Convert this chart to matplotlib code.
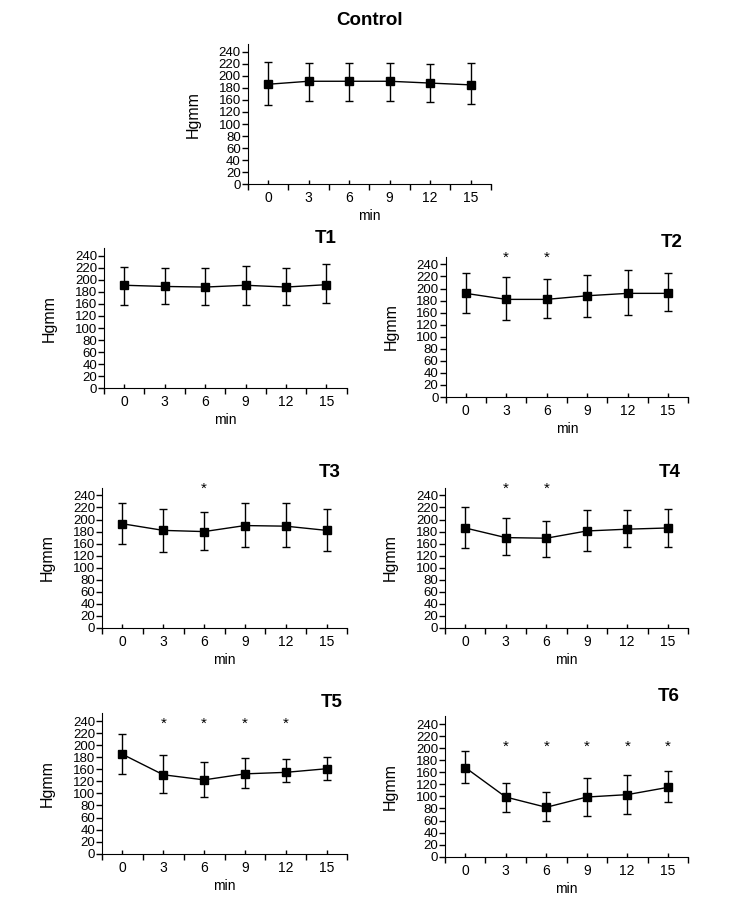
import matplotlib
matplotlib.use('Agg')
import matplotlib.pyplot as plt
import numpy as np

plt.rcParams['font.family'] = ['Liberation Sans', 'DejaVu Sans']

# data (mmHg)
minutes = [0, 3, 6, 9, 12, 15]
panels = ['Control', 'T1', 'T2', 'T3', 'T4', 'T5', 'T6']

mean_control = [186, 191, 191, 191, 188, 185]
upper_control = [223, 222, 222, 222, 220, 221]
lower_control = [143, 156, 156, 156, 154, 145]

mean_t1 = [191, 189, 188, 191, 188, 192]
upper_t1 = [222, 219, 219, 223, 219, 226]
lower_t1 = [156, 160, 157, 158, 158, 161]

mean_t2 = [192, 182, 182, 188, 192, 192]
upper_t2 = [226, 219, 216, 223, 231, 226]
lower_t2 = [160, 134, 141, 147, 152, 162]

mean_t3 = [193, 182, 180, 190, 189, 182]
upper_t3 = [227, 217, 213, 227, 227, 218]
lower_t3 = [160, 133, 138, 148, 148, 136]

mean_t4 = [186, 170, 169, 181, 184, 186]
upper_t4 = [220, 203, 198, 215, 215, 217]
lower_t4 = [144, 121, 118, 134, 148, 148]

mean_t5 = [185, 142, 125, 145, 150, 161]
upper_t5 = [218, 183, 172, 178, 177, 180]
lower_t5 = [145, 100, 94, 109, 119, 125]

mean_t6 = [168, 99, 82, 99, 103, 115]
upper_t6 = [196, 125, 108, 142, 150, 163]
lower_t6 = [124, 74, 60, 67, 71, 90]

means = [mean_control, mean_t1, mean_t2, mean_t3, mean_t4, mean_t5, mean_t6]
uppers = [upper_control, upper_t1, upper_t2, upper_t3, upper_t4, upper_t5, upper_t6]
lowers = [lower_control, lower_t1, lower_t2, lower_t3, lower_t4, lower_t5, lower_t6]

# significance stars: minutes marked, and the height they are printed at
star_minutes = [[], [], [3, 6], [6], [3, 6], [3, 6, 9, 12], [3, 6, 9, 12, 15]]
star_level = [0, 0, 251, 251, 251, 236, 203]

# the axis labels in the original are evenly spaced but skip 140
ytick_labels = [0, 20, 40, 60, 80, 100, 120, 160, 180, 200, 220, 240]
scale_vals = np.array(ytick_labels + [260], dtype=float)
scale_pos = np.arange(len(scale_vals), dtype=float)


def forward(v):
    return np.interp(v, scale_vals, scale_pos)


def inverse(p):
    return np.interp(p, scale_pos, scale_vals)


# layout: axes left, x-axis height (px from top), width; title spot
W, H = 746, 902
boxes = [
    [247.7, 184.3, 243.3],
    [104.0, 388.3, 242.7],
    [445.5, 397.0, 242.7],
    [102.0, 628.0, 245.0],
    [445.0, 628.0, 243.0],
    [102.0, 853.7, 245.0],
    [445.0, 856.7, 243.0],
]
ax_h = 140.4
title_xy = [(0.5, 1.17), (0.96, 1.065), (0.978, 1.10), (0.975, 1.11),
            (0.971, 1.11), (0.983, 1.075), (0.967, 1.14)]


def draw_panel(ax, i):
    m = np.array(means[i])
    up = np.array(uppers[i]) - m
    lo = m - np.array(lowers[i])
    ax.errorbar(minutes, m, yerr=[lo, up], color='black', marker='s',
                markersize=5.5, linewidth=1.0, elinewidth=1.0, capsize=3,
                capthick=1.0)

    ax.set_yscale('function', functions=(forward, inverse))
    ax.set_ylim(0, 253)
    ax.set_yticks(ytick_labels)
    ax.set_yticklabels([str(t) for t in ytick_labels])
    ax.yaxis.set_minor_locator(matplotlib.ticker.NullLocator())

    ax.set_xlim(-1.5, 16.5)
    ax.set_xticks(minutes)
    ax.set_xticks(np.arange(-1.5, 16.6, 3), minor=True)

    ax.spines['top'].set_visible(False)
    ax.spines['right'].set_visible(False)
    ax.spines['left'].set_bounds(-8, 253)
    ax.tick_params(axis='y', direction='out', length=4, width=1,
                   labelsize=9.5, pad=1)
    ax.tick_params(axis='x', which='major', direction='in', length=3,
                   width=1, labelsize=10, pad=5)
    ax.tick_params(axis='x', which='minor', direction='out', length=4,
                   width=1)

    ax.set_xlabel('min', fontsize=10, labelpad=3)
    ax.set_ylabel('Hgmm', fontsize=11.5, labelpad=13)

    for t in star_minutes[i]:
        ax.text(t, star_level[i], '*', ha='center', va='center',
                fontsize=11, clip_on=False)

    tx, ty = title_xy[i]
    ax.text(tx, ty, panels[i], transform=ax.transAxes,
            ha='center' if i == 0 else 'right', va='center',
            fontsize=13.5, fontweight='bold')


def main():
    fig = plt.figure(figsize=(W / 100, H / 100), dpi=100)
    for i in range(len(panels)):
        left, y0, width = boxes[i]
        ax = fig.add_axes([left / W, (H - y0) / H, width / W, ax_h / H])
        draw_panel(ax, i)
    fig.savefig('out.png', dpi=100)


if __name__ == '__main__':
    main()
